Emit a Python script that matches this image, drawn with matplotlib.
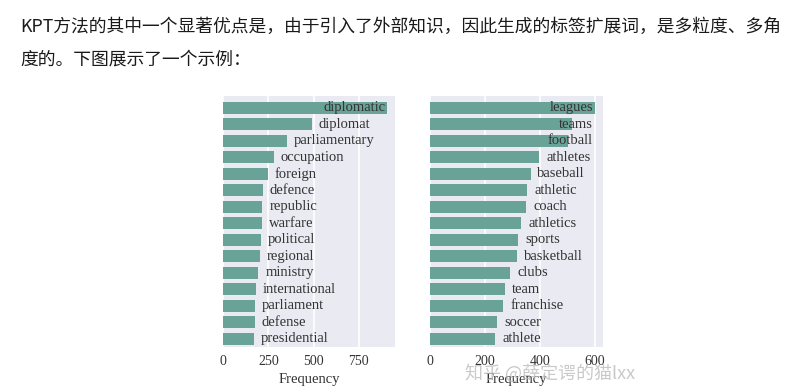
import matplotlib
matplotlib.use('Agg')
import matplotlib.pyplot as plt
import numpy as np

intro_line1 = 'KPT方法的其中一个显著优点是，由于引入了外部知识，因此生成的标签扩展词，是多粒度、多角'
intro_line2 = '度的。下图展示了一个示例：'
watermark = '知乎 @薛定谔的猫lxx'

politics_words = ['diplomatic', 'diplomat', 'parliamentary', 'occupation', 'foreign',
                  'defence', 'republic', 'warfare', 'political', 'regional',
                  'ministry', 'international', 'parliament', 'defense', 'presidential']
politics_freq = [905, 491, 353, 281, 248, 221, 218, 213, 209, 204, 195, 180, 177, 175, 171]
politics_ticks = [0, 250, 500, 750]

sports_words = ['leagues', 'teams', 'football', 'athletes', 'baseball', 'athletic',
                'coach', 'athletics', 'sports', 'basketball', 'clubs', 'team',
                'franchise', 'soccer', 'athlete']
sports_freq = [600, 516, 501, 398, 366, 354, 351, 333, 322, 318, 292, 274, 267, 245, 238]
sports_ticks = [0, 200, 400, 600]

bar_color = '#69a397'
bg_color = '#eaeaf2'
serif = 'Liberation Serif'

fig = plt.figure(figsize=(8.01, 3.92), dpi=100)
fig.patch.set_facecolor('white')

fig.text(20 / 801, 1 - 27 / 392, intro_line1, fontsize=12.8, color='#1a1a1a',
         family=['Noto Sans CJK SC', 'DejaVu Sans'], va='center', ha='left')
fig.text(20 / 801, 1 - 60 / 392, intro_line2, fontsize=12.8, color='#1a1a1a',
         family=['Noto Sans CJK SC', 'DejaVu Sans'], va='center', ha='left')

ax1 = fig.add_axes([223 / 801, 45 / 392, 172 / 801, 251 / 392])
ax2 = fig.add_axes([430 / 801, 45 / 392, 173 / 801, 251 / 392])

panels = [(ax1, politics_words, politics_freq, politics_ticks, 950),
          (ax2, sports_words, sports_freq, sports_ticks, 630)]

labels = []
for ax, words, freq, ticks, xmax in panels:
    ax.set_facecolor(bg_color)
    y = np.arange(len(words))
    ax.barh(y, freq, height=0.72, color=bar_color, zorder=2)
    ax.set_xlim(0, xmax)
    ax.set_ylim(len(words) - 0.5, -0.72)
    ax.set_xticks(ticks)
    ax.set_xticklabels([str(t) for t in ticks], family=serif, fontsize=10, color='#333333')
    ax.set_yticks([])
    ax.grid(axis='x', color='white', linewidth=1.2, zorder=1)
    ax.set_axisbelow(True)
    for s in ax.spines.values():
        s.set_visible(False)
    ax.tick_params(axis='x', length=0, pad=6)
    ax.set_xlabel('Frequency', family=serif, fontsize=10.5, color='#333333', labelpad=3)
    for yi, (w, f) in enumerate(zip(words, freq)):
        t = ax.annotate(w, xy=(f, yi), xytext=(5, 0), textcoords='offset points',
                        ha='left', va='center', family=serif, fontsize=10.5,
                        color='#333333', zorder=3)
        labels.append((ax, t))

# keep labels inside the axes: push long ones left
fig.canvas.draw()
renderer = fig.canvas.get_renderer()
for ax, t in labels:
    bb = t.get_window_extent(renderer)
    limit = ax.get_window_extent(renderer).x1 - 10
    if bb.x1 > limit:
        shift = bb.x1 - limit
        ox, oy = t.xyann
        t.xyann = (ox - shift * 72 / fig.dpi, oy)

fig.text(465 / 801, 1 - 373 / 392, watermark, fontsize=13, color='#b8b8b8', alpha=0.75,
         family=['Noto Sans CJK SC', 'DejaVu Sans'], va='center', ha='left')

fig.savefig('out.png', dpi=100)
